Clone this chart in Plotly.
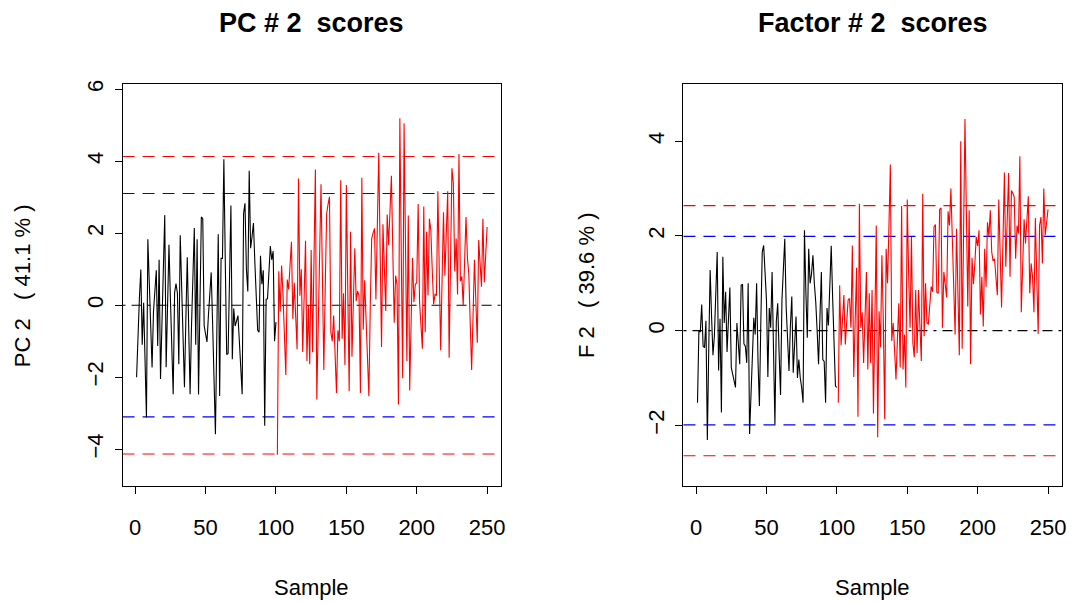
import plotly.graph_objects as go

# ---------------- data ----------------
pc2_scores = [
    -2.0, -0.6, 0.2, 0.99, -1.1, 0.07, -1.5, -3.12, 1.83, 0.4,
    -0.8, -1.73, -0.18, 0.5, 0.97, -1.13, 1.26, -2.05, -0.5, 1.1,
    2.5, -1.72, 0.0, 1.68, 0.2, -1.2, -2.47, 0.35, 0.6, 0.33,
    -1.64, 1.94, 0.5, -0.9, -2.28, -0.4, 1.33, -0.6, -2.47, -0.6,
    0.9, 2.14, -1.1, 1.83, -2.48, 0.3, 2.45, 2.4, -0.57, -0.8,
    -1.02, -0.3, 0.4, 0.91, -0.5, -2.0, -3.58, -0.8, 1.97, -2.52,
    1.3, 1.3, 4.05, 1.2, -1.37, -1.34, 0.7, 2.77, -1.5, -0.09,
    -0.58, -0.45, -0.29, -1.0, -1.8, -2.47, 2.54, 2.83, 1.0, 0.38,
    3.73, 1.58, 1.9, 2.28, 1.2, 0.2, -0.7, -0.75, 1.37, 0.58,
    0.97, -3.35, 0.16, 0.18, 1.0, 1.64, 1.26, 1.5, -1.0, -0.47,
    -4.15, 0.94, -0.18, 1.1, 0.3, -0.8, -1.94, 0.71, 0.44, 1.1,
    1.76, -0.38, 0.62, -0.3, -1.22, 3.52, 0.26, 1.0, -1.3, 0.2,
    1.79, -1.55, -0.02, -1.64, 1.53, -1.31, 1.2, 3.77, -2.62, -0.5,
    1.4, 3.36, 0.8, -1.8, 0.5, 2.54, 2.8, 3.01, -0.75, -1.0,
    -0.29, -1.3, -2.44, -0.7, -1.0, 3.47, -0.93, 0.33, -1.66, 3.34,
    0.5, -2.39, 2.04, -1.43, 0.1, 1.58, 0.12, 0.39, 0.26, -2.44,
    3.54, -0.68, 0.69, -0.5, -1.6, -2.53, 0.0, 1.85, 2.0, 2.13,
    0.16, 2.2, 4.23, 1.5, -1.16, 2.25, 1.0, -0.16, 2.52, 1.67,
    2.6, 3.59, 1.5, -0.49, 0.82, 0.58, -2.76, 5.19, 1.5, -2.03,
    5.05, 1.8, -1.55, 2.49, -2.37, -0.5, 1.31, 0.09, 0.58, 0.62,
    2.81, 0.09, -0.6, -1.21, 2.74, -0.75, 2.04, 0.27, 2.4, 2.08,
    1.0, 0.03, 0.3, 0.27, 3.16, 1.0, -1.25, 0.7, 2.58, 0.82,
    2.0, 3.16, -1.46, 1.2, 3.8, 3.38, 0.94, 1.85, 0.3, 4.2,
    0.67, 0.8, 0.0, 1.2, 2.45, 1.33, 0.85, -0.5, -1.8, -0.3,
    1.26, 0.1, -1.04, 1.81, 1.2, 0.51, 2.4, 0.64, 1.4, 2.17,
]

f2_scores = [
    -1.52, -0.01, -0.03, 0.55, -0.33, -0.36, 0.21, -2.31, -0.4, 1.28,
    0.3, -0.52, -0.12, 0.8, 1.66, -0.84, 0.25, -1.73, 1.56, 0.16,
    0.82, -0.45, 0.2, 0.91, -0.78, -0.9, -1.05, -1.2, 0.16, -0.3,
    -0.71, 0.96, 0.98, -0.28, -0.33, -0.68, 1.0, -2.18, -1.2, -0.4,
    0.27, -0.08, 1.0, -0.66, -1.59, 0.2, 1.66, 1.8, 1.2, 0.65,
    -0.98, 0.48, 0.06, 1.24, -0.4, -1.98, 0.2, 0.58, -0.5, -1.36,
    0.65, 1.2, 1.94, 0.5, -0.4, -0.85, 0.1, 0.72, -0.89, -0.2,
    0.3, -1.0, -0.61, -1.0, -1.2, -1.52, 2.12, 0.8, -0.15, 1.73,
    1.0, 1.2, 1.59, 1.0, 0.61, 0.0, -0.71, 0.3, 1.24, -0.61,
    -0.65, -1.52, 0.48, 0.11, 1.0, 1.79, 0.7, -0.3, -1.17, -1.2,
    -1.52, 0.96, -0.31, 0.3, 0.75, -0.29, 0.3, 0.65, 0.68, 0.06,
    1.8, -0.98, 0.2, 1.33, -1.82, 2.68, 0.06, 0.39, -0.68, 0.3,
    1.24, -0.82, 0.79, -0.68, 0.86, -1.75, 0.5, 2.22, -2.25, 0.41,
    -0.35, 1.59, 0.2, -1.87, 1.73, 1.0, 2.2, 3.51, -0.22, 0.16,
    -0.4, -1.03, -0.2, 0.58, -0.78, 2.63, -0.82, -0.08, -1.2, 2.77,
    1.2, 0.06, 1.98, -0.26, -0.56, 0.86, -0.47, 0.86, 0.1, -0.64,
    2.89, -0.12, 1.0, 0.16, 0.14, 0.5, 0.93, 0.82, 2.19, 2.24,
    0.81, 0.79, 2.56, 2.59, 0.06, 1.24, 0.9, 0.7, 2.52, 2.22,
    3.0, 2.05, 1.0, -0.08, 2.15, 0.8, -0.52, 4.0, -0.38, 2.0,
    4.47, 2.5, 0.51, 2.54, -0.71, 1.54, 0.98, 1.4, 1.98, 1.79,
    2.12, 0.34, 1.14, 0.09, 1.73, 0.93, 2.29, 2.0, 2.54, 1.66,
    1.47, 1.52, 1.1, 0.75, 2.77, 1.6, 0.49, 1.9, 3.34, 1.35,
    2.3, 3.33, 1.14, 2.96, 2.9, 2.82, 1.52, 2.22, 2.05, 3.68,
    0.39, 1.5, 2.35, 1.84, 2.3, 2.84, 0.79, 1.42, 1.14, 0.39,
    2.38, 1.2, -0.07, 2.22, 2.4, 1.42, 3.0, 2.01, 2.3, 2.56,
]

n_training = 100          # samples drawn in black
pc_inner_limit = 3.1      # blue dashed
pc_outer_limit = 4.13     # red dashed
f_inner_limit = 1.99
f_outer_limit = 2.64

x_ticks = [0, 50, 100, 150, 200, 250]
pc_y_ticks = [-4, -2, 0, 2, 4, 6]
f_y_ticks = [-2, 0, 2, 4]

titles = ["PC # 2  scores", "Factor # 2  scores"]
y_titles = ["PC 2   ( 41.1 % )", "F 2   ( 39.6 % )"]
x_title = "Sample"

# ---------------- figure ----------------
FONT = "Liberation Sans, Arial, Helvetica, sans-serif"
OFF = 8                      # page body margin
W, H = 1078 - OFF, 603 - OFF


def px(x):
    return (x - OFF) / W


def py(y):
    return 1 - (y - OFF) / H


def nb(s):
    return s.replace(" ", "&nbsp;")


samples = list(range(1, len(pc2_scores) + 1))

fig = go.Figure()

panels = [
    dict(vals=pc2_scores, inner=pc_inner_limit, outer=pc_outer_limit,
         yr=[-5.02, 6.13], yt=pc_y_ticks, xax="x", yax="y",
         dom=[px(123), px(503)], ytx=22),
    dict(vals=f2_scores, inner=f_inner_limit, outer=f_outer_limit,
         yr=[-3.28, 5.2], yt=f_y_ticks, xax="x2", yax="y2",
         dom=[px(686), px(1066)], ytx=588),
]

ydom = [py(485), py(80)]

for i, p in enumerate(panels):
    v = p["vals"]
    fig.add_trace(go.Scatter(x=samples[:n_training], y=v[:n_training], mode="lines",
                             line=dict(color="black", width=1.1),
                             xaxis=p["xax"], yaxis=p["yax"], showlegend=False))
    fig.add_trace(go.Scatter(x=samples[n_training:], y=v[n_training:], mode="lines",
                             line=dict(color="#ff0000", width=1.1),
                             xaxis=p["xax"], yaxis=p["yax"], showlegend=False))
    xref_dom = p["xax"] + " domain"
    for val, col, dash in [(p["outer"], "#ff0000", "12px,8px"), (-p["outer"], "#ff0000", "12px,8px"),
                           (p["inner"], "#0000ff", "12px,8px"), (-p["inner"], "#0000ff", "12px,8px"),
                           (0, "black", "3px,6px,10px,6px")]:
        fig.add_shape(type="line", xref=xref_dom, yref=p["yax"], x0=0, x1=1, y0=val, y1=val,
                      line=dict(color=col, width=1.1, dash=dash), layer="below")

    axis_common = dict(showgrid=False, zeroline=False, showline=True, mirror=True,
                       linecolor="black", linewidth=1, ticks="outside", ticklen=7,
                       tickcolor="black", tickwidth=1,
                       tickfont=dict(family=FONT, size=22, color="black"))
    xkey = "xaxis" if i == 0 else "xaxis2"
    ykey = "yaxis" if i == 0 else "yaxis2"
    fig.update_layout(**{
        xkey: dict(domain=p["dom"], range=[-8.96, 259.96], tickvals=x_ticks,
                   anchor=p["yax"], ticklabelstandoff=15, **axis_common),
        ykey: dict(domain=ydom, range=p["yr"], tickvals=p["yt"], anchor=p["xax"],
                   tickangle=-90, ticklabelstandoff=3, **axis_common),
    })

    cx = (p["dom"][0] + p["dom"][1]) / 2
    fig.add_annotation(text="<b>" + nb(titles[i]) + "</b>", x=cx, y=py(18), xref="paper",
                       yref="paper", showarrow=False, xanchor="center", yanchor="middle",
                       font=dict(family=FONT, size=27, color="black"))
    fig.add_annotation(text=x_title, x=cx, y=py(587), xref="paper", yref="paper",
                       showarrow=False, xanchor="center", yanchor="middle",
                       font=dict(family=FONT, size=22, color="black"))
    fig.add_annotation(text=nb(y_titles[i]), x=px(p["ytx"]), y=(ydom[0] + ydom[1]) / 2,
                       xref="paper", yref="paper", showarrow=False, textangle=-90,
                       xanchor="center", yanchor="middle",
                       font=dict(family=FONT, size=22, color="black"))

fig.update_layout(width=W, height=H, margin=dict(l=0, r=0, t=0, b=0),
                  paper_bgcolor="white", plot_bgcolor="white",
                  font=dict(family=FONT, size=22, color="black"))

fig.write_html("out.html")
